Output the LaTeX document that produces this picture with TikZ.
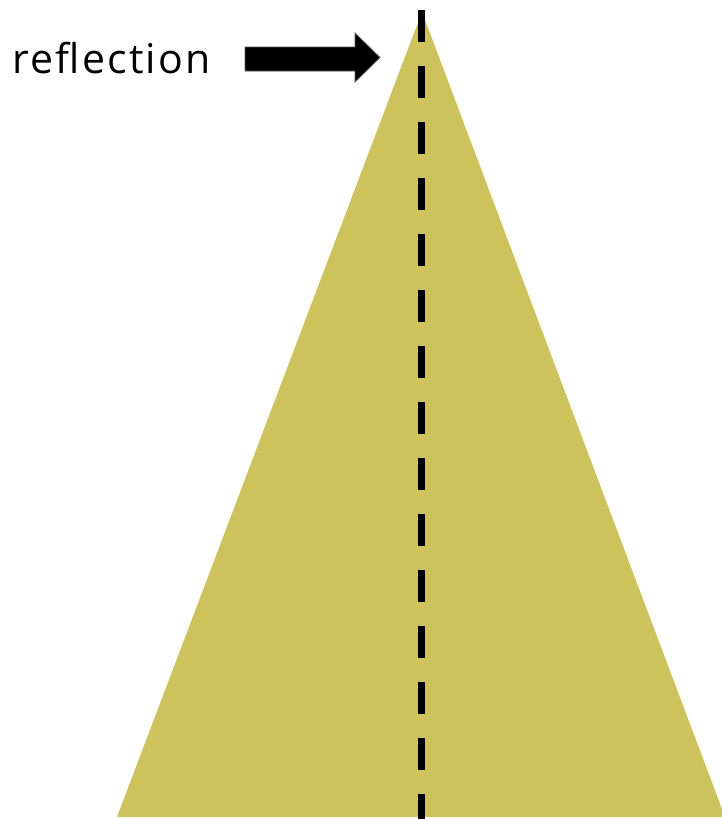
\documentclass[tikz,border=0pt]{standalone}
\usepackage{fontspec}
\setmainfont{Open Sans}
\begin{document}
\begin{tikzpicture}[x=1pt,y=-1pt,
  tri/.style={fill=tricol,draw=none},
  axis/.style={line width=7pt,dash pattern=on 32pt off 24pt},
  bigarrow/.style={fill=black,draw=gray!70!black,line width=0.8pt,line join=miter}]
\definecolor{tricol}{HTML}{CDC35C}
\useasboundingbox (0,0) rectangle (722,819);
\coordinate (apex) at (422,12);
\coordinate (bl) at (117,817);
\coordinate (br) at (725,817);
\fill[tricol] (apex) -- (br) -- (bl) -- cycle;
\coordinate (top) at (421,10);
\coordinate (bot) at (421,819);
\draw[axis] (top) -- (bot);
\node[anchor=base west,inner sep=0pt,font=\fontsize{41}{48}\selectfont\addfontfeatures{LetterSpace=5.5}] (lbl) at (12,73) {reflection};
\draw[bigarrow] (245,47) -- (355,47) -- (355,33) -- (380,57.5) -- (355,82) -- (355,71) -- (245,71) -- cycle;
\end{tikzpicture}
\end{document}
